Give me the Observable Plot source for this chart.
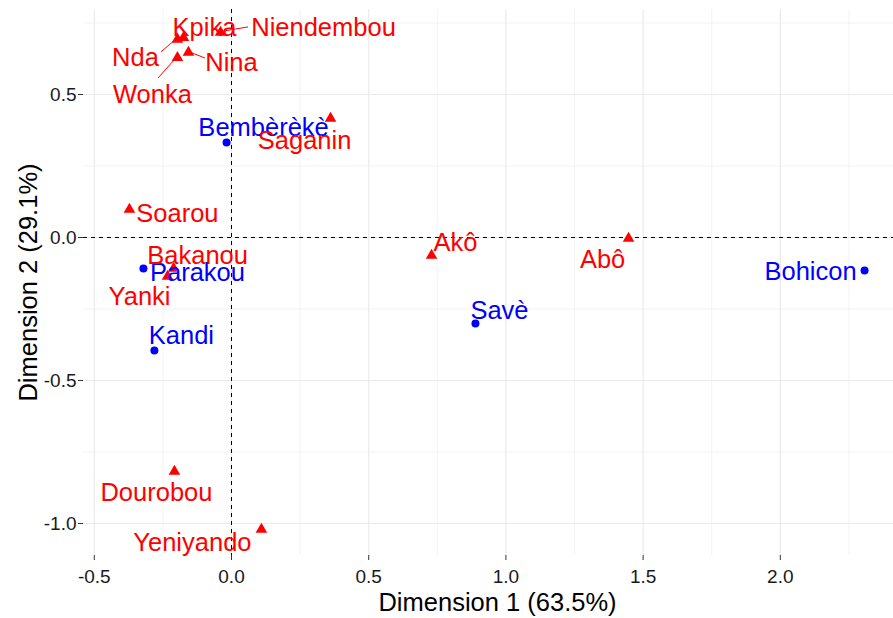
<!DOCTYPE html>
<html><head><meta charset="utf-8">
<script src="https://cdn.jsdelivr.net/npm/d3@7"></script>
<script src="https://cdn.jsdelivr.net/npm/@observablehq/plot@0.6"></script>
<style>body{margin:0;background:#fff}</style>
</head><body><div id="chart"></div>
<script>
// Row points (blue circles)
const rowNames = ["Bembèrèkè","Parakou","Kandi","Savè","Bohicon"];
const rowDim1 = [-0.018,-0.321,-0.281,0.889,2.307];
const rowDim2 = [0.332,-0.108,-0.395,-0.301,-0.115];
// Column points (red triangles)
const colNames = ["Kpika","Nda","Niendembou","Nina","Wonka","Saganin","Soarou","Bakanou","Yanki","Akô","Abô","Dourobou","Yeniyando"];
const colDim1 = [-0.175,-0.197,-0.040,-0.157,-0.197,0.361,-0.372,-0.211,-0.233,0.729,1.447,-0.208,0.109];
const colDim2 = [0.699,0.693,0.717,0.647,0.629,0.416,0.098,-0.108,-0.136,-0.063,-0.003,-0.818,-1.021];
// Axis ticks
const xTicks = [-0.5,0,0.5,1,1.5,2];
const yTicks = [-1,-0.5,0,0.5];
const xMinor = [-0.25,0.25,0.75,1.25,1.75,2.25];
const yMinor = [-0.75,-0.25,0.25,0.75];
const xTitle = "Dimension 1 (63.5%)";
const yTitle = "Dimension 2 (29.1%)";

// label placement (pixel offsets of label centre from its point, repel-style)
const labelOffset = {
  "Bembèrèkè":[37,-15], "Parakou":[54,4], "Kandi":[27,-15], "Savè":[24,-13], "Bohicon":[-54,1],
  "Kpika":[21,-10], "Nda":[-42,19], "Niendembou":[103,-5], "Nina":[43,10], "Wonka":[-25,37],
  "Saganin":[-26,22], "Soarou":[48,4], "Bakanou":[24,-13], "Yanki":[-28,20], "Akô":[24,-13],
  "Abô":[-26,21], "Dourobou":[-18,21], "Yeniyando":[-69,13]
};
// connector segments: [startOffset, endOffset] in pixels from the point
const connectorSegs = {
  "Niendembou":[[4,-1],[28,-5]],
  "Nda":[[-3,2],[-16,13]],
  "Nina":[[4,1],[17,6]],
  "Wonka":[[-3,3],[-19,21]]
};

const rows = rowNames.map((n,i)=>({name:n, x:rowDim1[i], y:rowDim2[i]}));
const cols = colNames.map((n,i)=>({name:n, x:colDim1[i], y:colDim2[i]}));

const blue = "#0000ff", red = "#ff0000";
const FS = 25.5;
const fmt = v => d3.format(".1f")(v).replace("\u2212", "-");

function labelMarks(data, color) {
  return data.map(d => Plot.text([d], {
    x:"x", y:"y", text:"name", fill:color, fontSize:FS,
    textAnchor:"middle", lineAnchor:"middle",
    dx: labelOffset[d.name][0], dy: labelOffset[d.name][1]
  }));
}

function connectors(index, scales, values, dims, context) {
  const g = d3.create("svg:g");
  for (const d of cols) {
    const s = connectorSegs[d.name];
    if (!s) continue;
    const px = scales.x(d.x), py = scales.y(d.y);
    g.append("line")
      .attr("x1", px + s[0][0]).attr("y1", py + s[0][1])
      .attr("x2", px + s[1][0]).attr("y2", py + s[1][1])
      .attr("stroke", red).attr("stroke-width", 1);
  }
  return g.node();
}

const chart = Plot.plot({
  width: 893, height: 618,
  marginLeft: 83, marginRight: 0, marginTop: 9, marginBottom: 63,
  style: {fontFamily: "'Liberation Sans', Arial, sans-serif", background: "#fff", overflow: "visible"},
  x: {domain: [-0.5394, 2.4125]},
  y: {domain: [-1.1119, 0.7972]},
  marks: [
    Plot.gridX(xMinor, {stroke:"#ebebeb", strokeOpacity:1, strokeWidth:0.6}),
    Plot.gridY(yMinor, {stroke:"#ebebeb", strokeOpacity:1, strokeWidth:0.6}),
    Plot.gridX(xTicks, {stroke:"#ebebeb", strokeOpacity:1, strokeWidth:1.2}),
    Plot.gridY(yTicks, {stroke:"#ebebeb", strokeOpacity:1, strokeWidth:1.2}),
    Plot.axisX(xTicks, {tickSize:5, tickPadding:9, fontSize:19, fill:"#1a1a1a", stroke:"#333", tickFormat:fmt, label:null}),
    Plot.axisY(yTicks, {tickSize:5, tickPadding:2, fontSize:19, fill:"#1a1a1a", stroke:"#333", tickFormat:fmt, label:null}),
    Plot.ruleX([0], {stroke:"#000", strokeDasharray:"4,4", strokeWidth:1}),
    Plot.ruleY([0], {stroke:"#000", strokeDasharray:"4,4", strokeWidth:1}),
    connectors,
    Plot.dot(rows, {x:"x", y:"y", r:4, fill:blue, stroke:null}),
    Plot.dot(cols, {x:"x", y:"y", r:4.3, symbol:"triangle", fill:red, stroke:null}),
    ...labelMarks(rows, blue),
    ...labelMarks(cols, red),
    Plot.text([xTitle], {frameAnchor:"bottom", dx:9, dy:47, fontSize:FS, fill:"#000", textAnchor:"middle", lineAnchor:"middle"}),
    Plot.text([yTitle], {frameAnchor:"left", dx:-55, rotate:-90, fontSize:FS, fill:"#000", textAnchor:"middle", lineAnchor:"middle"})
  ]
});
document.getElementById("chart").appendChild(chart);
</script>
</body></html>
